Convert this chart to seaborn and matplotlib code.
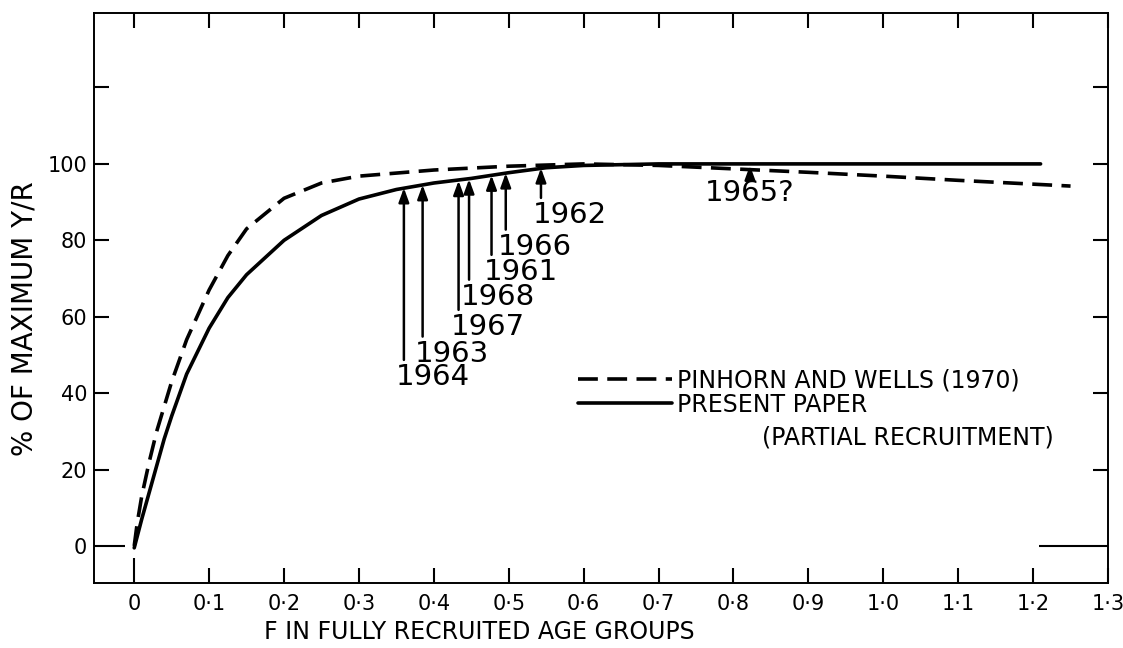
import numpy as np
import pandas as pd
import matplotlib
matplotlib.use("Agg")
import matplotlib.pyplot as plt
import matplotlib.transforms as mtransforms
import seaborn as sns

# Yield per recruit (% of maximum) against fishing mortality F
pw_f = [0.0, 0.004, 0.01, 0.02, 0.03, 0.05, 0.07, 0.10, 0.125, 0.15, 0.20, 0.25,
        0.30, 0.35, 0.40, 0.50, 0.60, 0.70, 0.80, 0.90, 1.00, 1.10, 1.20, 1.25]
pw_yield = [0.0, 6.0, 13.0, 22.0, 30.0, 43.0, 54.0, 67.0, 76.0, 83.0, 91.0, 95.0,
            96.8, 97.6, 98.4, 99.4, 100.0, 99.6, 98.7, 97.8, 96.8, 95.7, 94.7, 94.2]

pp_f = [0.0, 0.01, 0.02, 0.03, 0.04, 0.05, 0.07, 0.10, 0.125, 0.15, 0.20, 0.25,
        0.30, 0.35, 0.40, 0.45, 0.50, 0.55, 0.60, 0.70, 0.80, 1.00, 1.21]
pp_yield = [-0.5, 7.0, 14.0, 21.0, 28.0, 34.0, 45.0, 57.0, 65.0, 71.0, 80.0, 86.5,
            90.8, 93.3, 95.0, 96.2, 97.7, 99.0, 99.6, 100.0, 100.0, 100.0, 100.0]

# Yearly estimates of F marked on the curves
years = ["1964", "1963", "1967", "1968", "1961", "1966", "1962"]
year_f = [0.360, 0.385, 0.433, 0.447, 0.477, 0.496, 0.543]
year_yield = [93.7, 94.5, 95.6, 96.0, 97.0, 97.6, 98.9]
year_label_y = [44.2, 50.3, 57.3, 65.2, 71.7, 78.3, 86.6]

q_year = "1965?"
q_f = 0.822
q_yield = 99.6
q_label_y = 92.4

x_ticks = [0.0, 0.1, 0.2, 0.3, 0.4, 0.5, 0.6, 0.7, 0.8, 0.9, 1.0, 1.1, 1.2, 1.3]
x_tick_labels = ["0", "0·1", "0·2", "0·3", "0·4", "0·5", "0·6", "0·7",
                 "0·8", "0·9", "1·0", "1·1", "1·2", "1·3"]
y_ticks = [0, 20, 40, 60, 80, 100, 120]
y_tick_labels = ["0", "20", "40", "60", "80", "100", ""]

legend_labels = ["PINHORN AND WELLS (1970)", "PRESENT PAPER"]
legend_note = "(PARTIAL RECRUITMENT)"

sns.set_style("white")
plt.rcParams["font.family"] = ["DejaVu Sans"]
plt.rcParams["text.color"] = "black"
plt.rcParams["axes.labelcolor"] = "black"
plt.rcParams["axes.edgecolor"] = "black"
plt.rcParams["axes.linewidth"] = 1.4

fig = plt.figure(figsize=(11.23, 6.48), dpi=100)
ax = fig.add_axes([94 / 1123, 65 / 648, 1014 / 1123, 570 / 648])

pw = pd.DataFrame({"F": pw_f, "Y": pw_yield})
pp = pd.DataFrame({"F": pp_f, "Y": pp_yield})
sns.lineplot(data=pw, x="F", y="Y", ax=ax, color="black", lw=2.6,
             linestyle=(0, (5.5, 2.6)), sort=False)
sns.lineplot(data=pp, x="F", y="Y", ax=ax, color="black", lw=2.6, sort=False)

ax.set_xlim(-0.0537, 1.3)
ax.set_ylim(-9.7, 139.5)

ax.set_xticks(x_ticks)
ax.set_xticklabels(x_tick_labels)
ax.set_yticks(y_ticks)
ax.set_yticklabels(y_tick_labels)
ax.tick_params(direction="in", length=11, width=1.5,
               bottom=True, left=True, top=True, right=True,
               labelsize=15, color="black", labelcolor="black")
ax.tick_params(axis="x", pad=8)
ax.tick_params(axis="y", pad=5)

ax.set_xlabel("F IN FULLY RECRUITED AGE GROUPS", fontsize=17)
ax.xaxis.set_label_coords(0.38, -0.065)
ax.set_ylabel("% OF MAXIMUM Y/R", fontsize=20)
ax.yaxis.set_label_coords(-0.055, 0.464)

# Year arrows pointing at the curve
text_shift = mtransforms.offset_copy(ax.transData, fig=fig, x=-8, y=0, units="dots")
arrow_kw = dict(arrowstyle="-|>,head_length=0.6,head_width=0.22", color="black",
                lw=1.8, shrinkA=0, shrinkB=0, mutation_scale=14)
for yr, f, yv, ly in zip(years, year_f, year_yield, year_label_y):
    ax.annotate("", xy=(f, yv), xytext=(f, ly + 4.5), arrowprops=arrow_kw)
    ax.text(f, ly, yr, transform=text_shift, fontsize=21, ha="left", va="center")

ax.annotate("", xy=(q_f, q_yield), xytext=(q_f, q_label_y + 4.0), arrowprops=arrow_kw)
ax.text(q_f, q_label_y, q_year, fontsize=21, ha="center", va="center")

handles = ax.get_lines()[:2]
ax.legend(handles, legend_labels, loc="upper left", bbox_to_anchor=(0.477, 0.376),
          frameon=False, fontsize=17, handlelength=4.0, handletextpad=0.2,
          labelspacing=0.0, borderpad=0, borderaxespad=0)
ax.text(0.659, 0.256, legend_note, transform=ax.transAxes, fontsize=17,
        ha="left", va="center")

# Longer ticks at the origin
ax.xaxis.get_major_ticks()[0].tick1line.set_markersize(18)
ytick0 = ax.yaxis.get_major_ticks()[0]
ytick0.tick1line.set_markersize(22)
ytick0.tick2line.set_markersize(50)

fig.savefig("out.png", dpi=100)
